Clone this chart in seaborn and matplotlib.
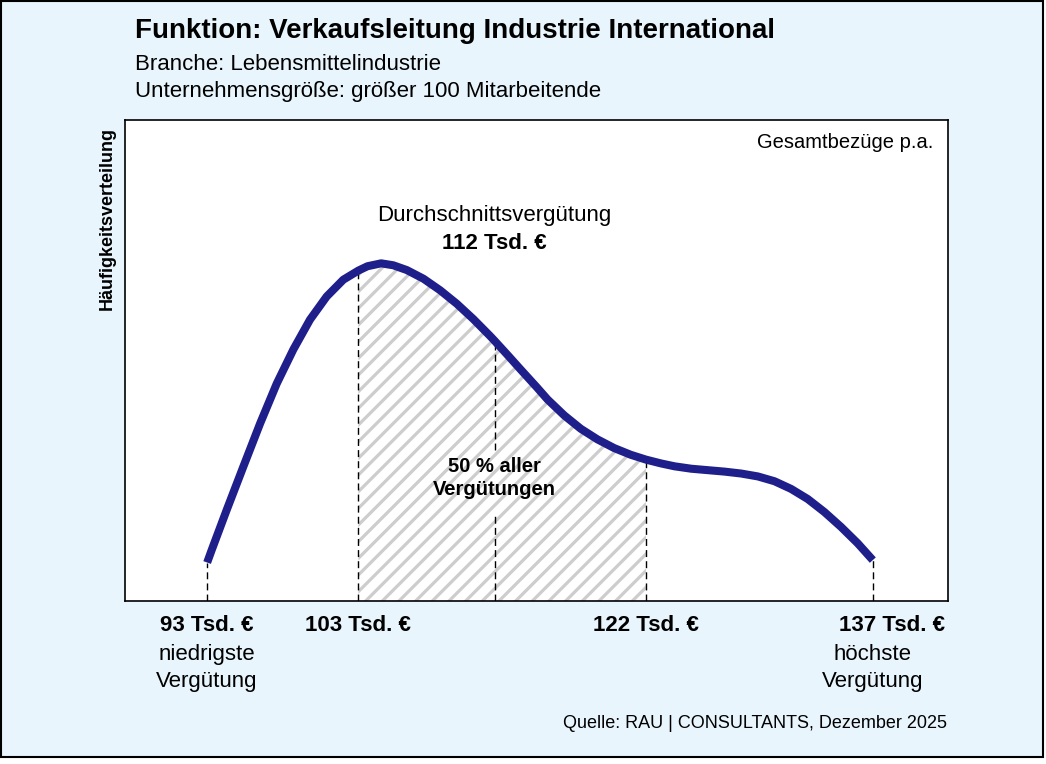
import matplotlib
matplotlib.use('Agg')
import matplotlib.pyplot as plt
import seaborn as sns
import numpy as np
from matplotlib.patches import Rectangle

# Werte (Tsd. Euro / relative Haeufigkeit 0-100)
gehalt = [93.0, 93.3, 94.3, 95.4, 96.5, 97.6, 98.7, 99.8, 100.9, 102.0,
          103.0, 103.6, 104.5, 105.3, 106.2, 107.3, 108.4, 109.5, 110.6, 111.7,
          112.0, 112.9, 113.7, 114.8, 115.5, 116.6, 117.7, 118.8, 119.9, 121.0,
          122.0, 123.0, 123.9, 125.0, 126.1, 127.2, 128.3, 129.4, 130.5, 131.6,
          132.7, 133.8, 134.9, 136.0, 137.0]
haeufigkeit = [8.0, 10.6, 19.0, 28.0, 36.9, 45.2, 52.3, 58.5, 63.3, 66.8,
               68.7, 69.6, 70.2, 69.8, 68.8, 67.0, 64.6, 61.8, 58.6, 55.1,
               54.1, 51.0, 48.2, 44.4, 41.9, 38.6, 35.8, 33.6, 31.8, 30.4,
               29.4, 28.6, 28.0, 27.5, 27.2, 26.9, 26.5, 25.9, 24.9, 23.3,
               21.2, 18.5, 15.4, 12.0, 8.5]

minimum, q1, mittel, q3, maximum = 93, 103, 112, 122, 137
marken = [minimum, q1, mittel, q3, maximum]
marken_text = ['93 Tsd. €', '103 Tsd. €', '112 Tsd. €', '122 Tsd. €', '137 Tsd. €']

titel = 'Funktion: Verkaufsleitung Industrie International'
branche = 'Branche: Lebensmittelindustrie'
groesse = 'Unternehmensgröße: größer 100 Mitarbeitende'
quelle = 'Quelle: RAU | CONSULTANTS, Dezember 2025'

sns.set_style('white')
plt.rcParams['font.family'] = ['Liberation Sans', 'DejaVu Sans']
plt.rcParams['text.color'] = 'black'
plt.rcParams['hatch.color'] = '#cdcdcd'
plt.rcParams['hatch.linewidth'] = 2.3

navy = '#1f1f8b'
x = np.array(gehalt)
y = np.array(haeufigkeit)

fig = plt.figure(figsize=(10.46, 7.64), dpi=100, facecolor='white')
fig.add_artist(Rectangle((0.5/1046, 7/764), 1042.5/1046, 756.5/764,
                         transform=fig.transFigure, facecolor='#e9f5fd',
                         edgecolor='black', linewidth=1.5, zorder=-1))
ax = fig.add_axes([125/1046, 1-601/764, 823/1046, 481/764])
ax.set_facecolor('white')

# schraffierte Flaeche (50 % aller Verguetungen)
m = (x >= q1) & (x <= q3)
ax.fill_between(x[m], y[m], 0, facecolor='white', edgecolor='#cdcdcd',
                hatch='//', linewidth=0, zorder=1)

# gestrichelte Linien
for g in marken:
    top = y[np.argmin(np.abs(x - g))]
    if g == mittel:
        ax.plot([g, g], [0, 18.3], color='black', lw=1.0, dashes=(5, 3), zorder=2)
        ax.plot([g, g], [31.4, top], color='black', lw=1.0, dashes=(5, 3), zorder=2)
    else:
        ax.plot([g, g], [0, top], color='black', lw=1.0, dashes=(5, 3), zorder=2)

sns.lineplot(x=gehalt, y=haeufigkeit, sort=False, color=navy, linewidth=5.8,
             ax=ax, zorder=3)
ax.lines[-1].set_solid_capstyle('butt')
ax.lines[-1].set_solid_joinstyle('round')

ax.set_xlim(87.57, 141.97)
ax.set_ylim(0, 100)
ax.set_xticks([])
ax.set_yticks([])
ax.set_xlabel('')
ax.set_ylabel('')
for s in ax.spines.values():
    s.set_visible(True)
    s.set_color('black')
    s.set_linewidth(1.2)

ax.text(0.982, 0.954, 'Gesamtbezüge p.a.', transform=ax.transAxes,
        ha='right', va='center', fontsize=14.5)
ax.text(mittel, 80.2, 'Durchschnittsvergütung', ha='center', va='center', fontsize=16)
ax.text(mittel, 74.4, marken_text[2], ha='center', va='center', fontsize=16,
        fontweight='bold')
ax.text(mittel, 27.9, '50 % aller', ha='center', va='center', fontsize=14.5,
        fontweight='bold', zorder=4)
ax.text(mittel, 23.1, 'Vergütungen', ha='center', va='center', fontsize=14.5,
        fontweight='bold', zorder=4)

# Beschriftung unter der Achse
ax.text(minimum, -5.0, marken_text[0], ha='center', va='center', fontsize=16, fontweight='bold')
ax.text(minimum, -11.2, 'niedrigste', ha='center', va='center', fontsize=16)
ax.text(minimum, -16.8, 'Vergütung', ha='center', va='center', fontsize=16)
ax.text(q1, -5.0, marken_text[1], ha='center', va='center', fontsize=16, fontweight='bold')
ax.text(q3, -5.0, marken_text[3], ha='center', va='center', fontsize=16, fontweight='bold')
ax.text(138.3, -5.0, marken_text[4], ha='center', va='center', fontsize=16, fontweight='bold')
ax.text(maximum, -11.2, 'höchste', ha='center', va='center', fontsize=16)
ax.text(maximum, -16.8, 'Vergütung', ha='center', va='center', fontsize=16)

fig.text(135/1046, 1-31/764, titel, ha='left', va='center', fontsize=20, fontweight='bold')
fig.text(135/1046, 1-65/764, branche, ha='left', va='center', fontsize=16)
fig.text(135/1046, 1-92/764, groesse, ha='left', va='center', fontsize=16)
fig.text(107/1046, 1-218/764, 'Häufigkeitsverteilung', rotation=90, ha='center',
         va='center', fontsize=13, fontweight='bold')
fig.text(947/1046, 1-723/764, quelle, ha='right', va='center', fontsize=13)

fig.savefig('out.png', dpi=100, facecolor=fig.get_facecolor())
